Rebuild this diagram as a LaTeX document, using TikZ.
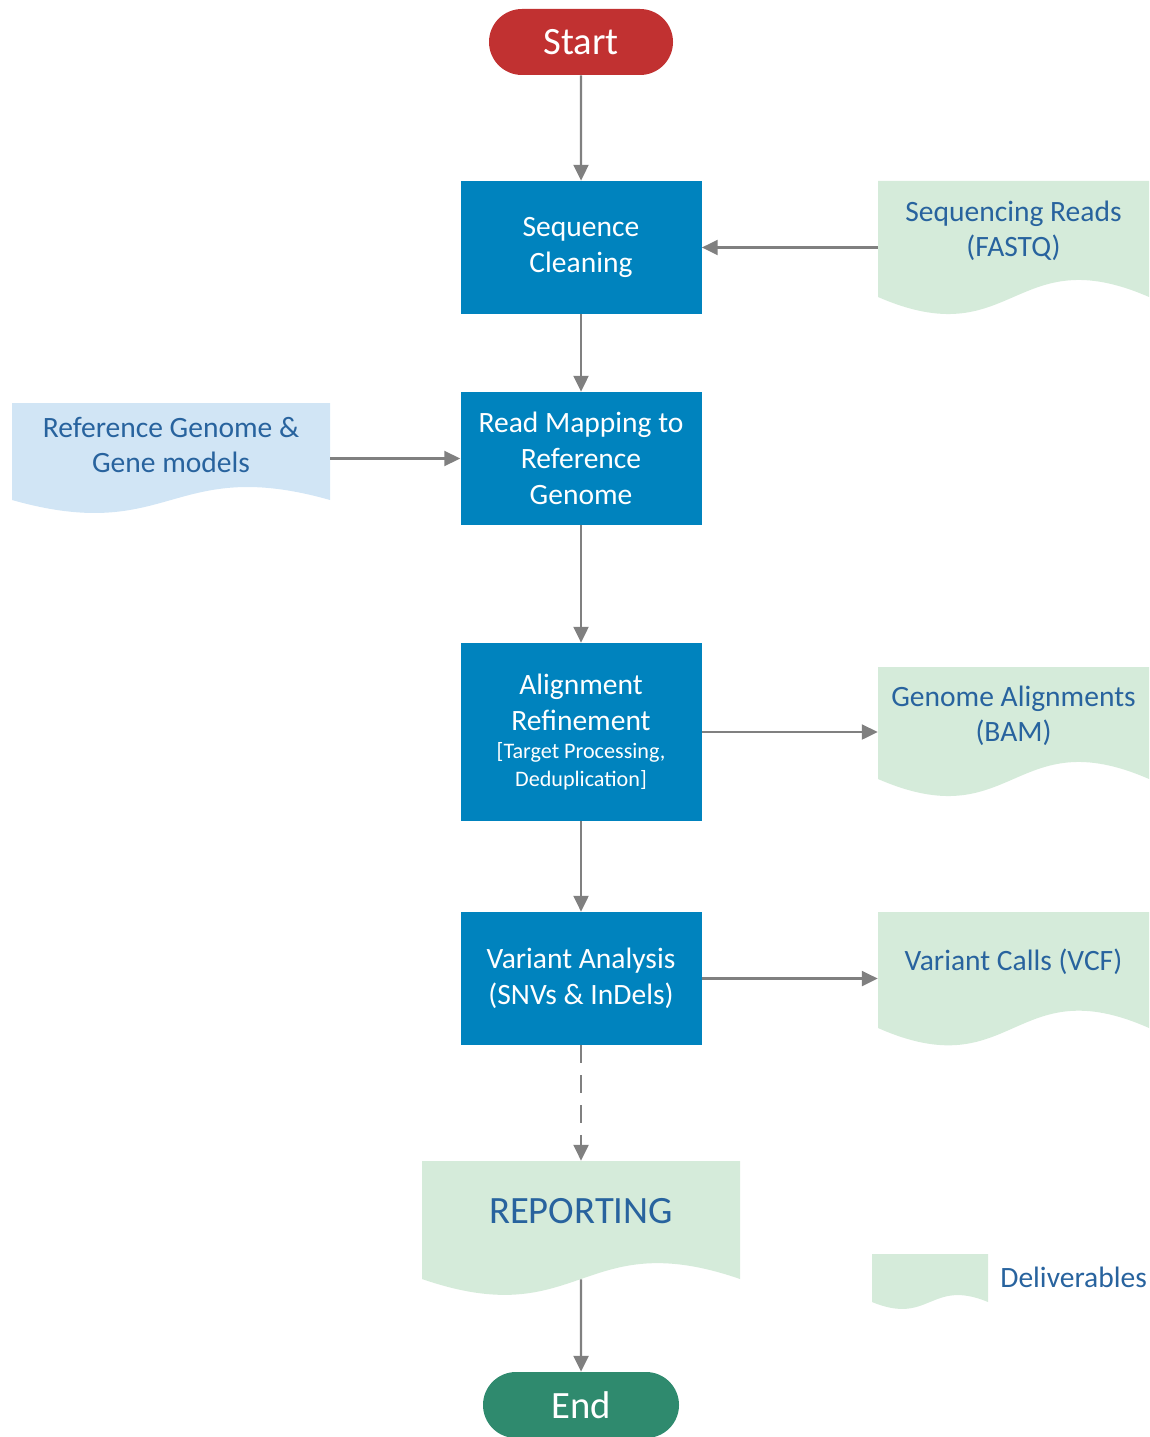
\documentclass[tikz,border=0pt]{standalone}
\usepackage{fontspec}
\setmainfont{Carlito}
\usetikzlibrary{arrows.meta,shapes.misc}
\definecolor{procblue}{RGB}{0,131,190}
\definecolor{startred}{RGB}{193,49,49}
\definecolor{endgreen}{RGB}{47,138,110}
\definecolor{delivgreen}{RGB}{213,235,218}
\definecolor{refblue}{RGB}{209,229,245}
\definecolor{doctext}{RGB}{40,99,158}
\definecolor{flowgray}{RGB}{128,128,128}
\tikzset{
  proc/.style={fill=procblue, text=white, align=center, inner sep=0pt,
    minimum width=48.2mm, minimum height=26.6mm, font=\fontsize{16.8}{20.5}\selectfont},
  term/.style={rounded rectangle, text=white, inner sep=0pt, minimum height=13.2mm,
    font=\fontsize{22}{26}\selectfont},
  doctxt/.style={text=doctext, align=center, font=\fontsize{16.8}{20}\selectfont},
  flow/.style={draw=flowgray, line width=1.4pt, -{Triangle[length=9pt,width=8.5pt]}},
}
% name, left, top, width, base, wave, fill, text offset, text
\newcommand{\docshape}[9]{%
  \fill[#7] (#2,#3) -- ({#2+#4},#3) -- ({#2+#4},{#3+#5})
    .. controls ({#2+0.5*#4},{#3+#5-#6}) and ({#2+0.5*#4},{#3+#5+#6}) .. (#2,{#3+#5}) -- cycle;
  \node[inner sep=0pt, minimum width=#4*0.2mm, minimum height=#5*0.2mm] (#1) at ({#2+0.5*#4},{#3+0.5*#5}) {};
  \node[doctxt] (#1txt) at ({#2+0.5*#4},{#3+#8}) {#9};
}
\begin{document}
\begin{tikzpicture}[x=0.2mm,y=-0.2mm]
\useasboundingbox (0,0) rectangle (1149,1437);
\node[term, fill=startred, minimum width=36.8mm] (start) at (581,42) {Start};
\node[proc] (clean) at (581,247.5) {Sequence\\Cleaning};
\node[proc] (mapping) at (581,458.5) {Read Mapping to\\Reference\\Genome};
\node[proc, minimum height=35.6mm] (refine) at (581,732) {Alignment\\Refinement\\[-4.5pt]{\fontsize{12.6}{15}\selectfont [Target Processing,}\\[-5pt]{\fontsize{12.6}{15}\selectfont Deduplication]}};
\node[proc] (variant) at (581,978.5) {Variant Analysis\\(SNVs \& InDels)};
\docshape{reads}{878}{181}{271}{116}{59}{delivgreen}{50}{Sequencing Reads\\(FASTQ)}
\docshape{refgen}{12}{403}{318}{97}{45}{refblue}{42}{Reference Genome \&\\Gene models}
\docshape{bam}{878}{667}{271}{112}{59}{delivgreen}{49}{Genome Alignments\\(BAM)}
\docshape{vcf}{878}{912}{271}{116}{60}{delivgreen}{50}{Variant Calls (VCF)}
\docshape{report}{422}{1161}{318}{118}{55}{delivgreen}{50}{\fontsize{22}{26}\selectfont REPORTING}
\docshape{legend}{872}{1254}{116}{48}{24}{delivgreen}{24}{}
\node[doctxt, anchor=west, inner sep=0pt] (legendlabel) at (1000,1277) {Deliverables};
\node[term, fill=endgreen, minimum width=39.2mm] (end) at (581,1405) {End};

\draw[flow] (start) -- (clean);
\draw[flow] (reads.west |- clean) -- (clean);
\draw[flow] (clean) -- (mapping);
\draw[flow] (refgen.east |- mapping) -- (mapping);
\draw[flow] (mapping) -- (refine);
\draw[flow] (refine) -- (bam.west |- refine);
\draw[flow] (refine) -- (variant);
\draw[flow] (variant) -- (vcf.west |- variant);
\draw[flow, dash pattern=on 10pt off 7pt] (variant) -- (report);
\draw[flow] (report) -- (end);
\end{tikzpicture}
\end{document}
